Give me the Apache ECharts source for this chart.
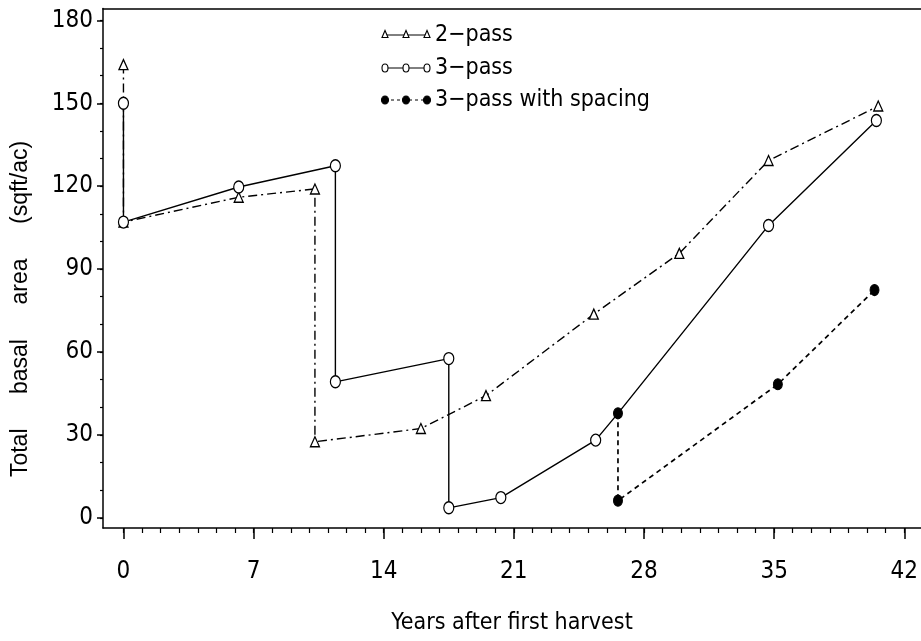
<!DOCTYPE html>
<html>
<head>
<meta charset="utf-8">
<script src="https://cdn.jsdelivr.net/npm/echarts@6/dist/echarts.min.js"></script>
<style>
  html, body { margin: 0; padding: 0; background: #fff; }
  #chart { width: 921px; height: 641px; }
</style>
</head>
<body>
<div id="chart"></div>
<script>
// Total basal area over time for three harvest regimes
const twoPassYears = [0, 0, 6.2, 10.3, 10.3, 16.0, 19.5, 25.3, 29.9, 34.7, 40.6];
const twoPassArea  = [164, 107, 116, 119, 27.5, 32.3, 44.2, 73.7, 95.7, 129.3, 149];

const threePassYears = [0, 0, 6.2, 11.4, 11.4, 17.5, 17.5, 20.3, 25.4, 26.6, 34.7, 40.5];
const threePassArea  = [150, 107, 119.7, 127.4, 49.2, 57.6, 3.6, 7.3, 28.1, 37.8, 105.8, 143.8];

const spacingYears = [26.6, 26.6, 35.2, 40.4];
const spacingArea  = [37.8, 6.2, 48.3, 82.4];

const xTickLabels = [0, 7, 14, 21, 28, 35, 42];
const yTickLabels = [0, 30, 60, 90, 120, 150, 180];
const xMinorTicks = Array.from({ length: 43 }, (_, i) => i);
const yMinorTicks = Array.from({ length: 19 }, (_, i) => i * 10);

const legendNames = ['2\u2212pass', '3\u2212pass', '3\u2212pass with spacing'];
const xTitle = 'Years after first harvest';
const yTitle = ['Total', 'basal', 'area', '(sqft/ac)'].join('\u2003\u2002');

const pairs = (xs, ys) => xs.map((x, i) => [x, ys[i]]);

const INK = '#000';
const tickFont = '"Liberation Sans Narrow", "DejaVu Sans Condensed", sans-serif';

const chart = echarts.init(document.getElementById('chart'), null, { renderer: 'canvas' });

const xCommon = { type: 'value', min: -1.1, max: 42.9, splitLine: { show: false }, offset: 0 };
const yCommon = { type: 'value', min: -3.7, max: 184.3, splitLine: { show: false }, offset: 0 };

// the 3-pass point shared with the spacing series is drawn by that series' filled marker
const threePassData = pairs(threePassYears, threePassArea).map(p => {
  const shared = spacingYears[0] === p[0] && spacingArea[0] === p[1];
  return shared ? { value: p, symbol: 'none' } : p;
});

// legend: three sample markers joined by a short line, then the label
function legendRow(y, symbolShape, filled, dash, label) {
  const xs = [385, 406, 427];
  const els = [];
  els.push({
    type: 'polyline', z: 10,
    shape: { points: [[xs[0], y], [xs[2], y]] },
    style: { stroke: INK, lineWidth: 1, lineDash: dash, fill: null }
  });
  xs.forEach(x => {
    if (symbolShape === 'triangle') {
      els.push({
        type: 'polygon', z: 11,
        shape: { points: [[x, y - 4.5], [x - 3, y + 2.5], [x + 3, y + 2.5]] },
        style: { stroke: INK, lineWidth: 1.1, fill: '#fff' }
      });
    } else {
      els.push({
        type: 'ellipse', z: 11,
        shape: { cx: x, cy: y, rx: filled ? 3.5 : 3, ry: 4 },
        style: { stroke: INK, lineWidth: 1.1, fill: filled ? INK : '#fff' }
      });
    }
  });
  els.push({
    type: 'text', z: 11, x: 435, y: y,
    style: {
      text: label, fill: INK, font: '23px ' + tickFont,
      verticalAlign: 'middle'
    }
  });
  return els;
}

const option = {
  animation: false,
  backgroundColor: '#fff',
  grid: { left: 103, right: 0, top: 8.5, bottom: 113, containLabel: false, outerBoundsMode: 'none' },
  xAxis: [
    Object.assign({}, xCommon, {
      position: 'bottom',
      axisLine: { show: true, onZero: false, lineStyle: { color: INK, width: 1.5 } },
      axisTick: { show: true, length: 11, customValues: xTickLabels, lineStyle: { color: INK, width: 1.5 } },
      axisLabel: {
        show: true, customValues: xTickLabels, margin: 32,
        color: INK, fontFamily: tickFont, fontSize: 24
      },
      name: xTitle,
      nameLocation: 'middle', nameGap: 84,
      nameTextStyle: { color: INK, fontFamily: tickFont, fontSize: 23 }
    }),
    Object.assign({}, xCommon, {
      position: 'bottom',
      axisLine: { show: false, onZero: false },
      axisTick: { show: true, length: 5, customValues: xMinorTicks, lineStyle: { color: INK, width: 1.2 } },
      axisLabel: { show: false }
    }),
    Object.assign({}, xCommon, {
      position: 'top',
      axisLine: { show: true, onZero: false, lineStyle: { color: INK, width: 1.5 } },
      axisTick: { show: false },
      axisLabel: { show: false }
    })
  ],
  yAxis: [
    Object.assign({}, yCommon, {
      position: 'left',
      axisLine: { show: true, onZero: false, lineStyle: { color: INK, width: 1.5 } },
      axisTick: { show: true, length: 6, customValues: yTickLabels, lineStyle: { color: INK, width: 1.5 } },
      axisLabel: {
        show: true, customValues: yTickLabels, margin: 10,
        color: INK, fontFamily: tickFont, fontSize: 24
      }
    }),
    Object.assign({}, yCommon, {
      position: 'left',
      axisLine: { show: false, onZero: false },
      axisTick: { show: true, length: 3, customValues: yMinorTicks, lineStyle: { color: INK, width: 1.2 } },
      axisLabel: { show: false }
    })
  ],
  series: [
    {
      name: legendNames[0], type: 'line',
      data: pairs(twoPassYears, twoPassArea),
      symbol: 'triangle', symbolSize: [9, 10],
      lineStyle: { color: INK, width: 1.4, type: [9, 4, 2, 4] },
      itemStyle: { color: '#fff', borderColor: INK, borderWidth: 1.3 },
      z: 3
    },
    {
      name: legendNames[1], type: 'line',
      data: threePassData,
      symbol: 'circle', symbolSize: [10, 12],
      lineStyle: { color: INK, width: 1.4, type: 'solid' },
      itemStyle: { color: '#fff', borderColor: INK, borderWidth: 1.3 },
      z: 4
    },
    {
      name: legendNames[2], type: 'line',
      data: pairs(spacingYears, spacingArea),
      symbol: 'circle', symbolSize: [9, 11],
      lineStyle: { color: INK, width: 1.7, type: [5, 4] },
      itemStyle: { color: INK, borderColor: INK, borderWidth: 1 },
      z: 5
    }
  ],
  graphic: [
    ...legendRow(35, 'triangle', false, null, legendNames[0]),
    ...legendRow(68, 'circle', false, null, legendNames[1]),
    ...legendRow(100, 'circle', true, [3, 3], legendNames[2]),
    {
      // vertical axis title
      type: 'text', x: 21, y: 309, rotation: Math.PI / 2,
      style: {
        text: yTitle, fill: INK,
        font: '23px "Liberation Sans", Arial, sans-serif',
        align: 'center', verticalAlign: 'middle'
      }
    }
  ]
};

chart.setOption(option);
</script>
</body>
</html>
